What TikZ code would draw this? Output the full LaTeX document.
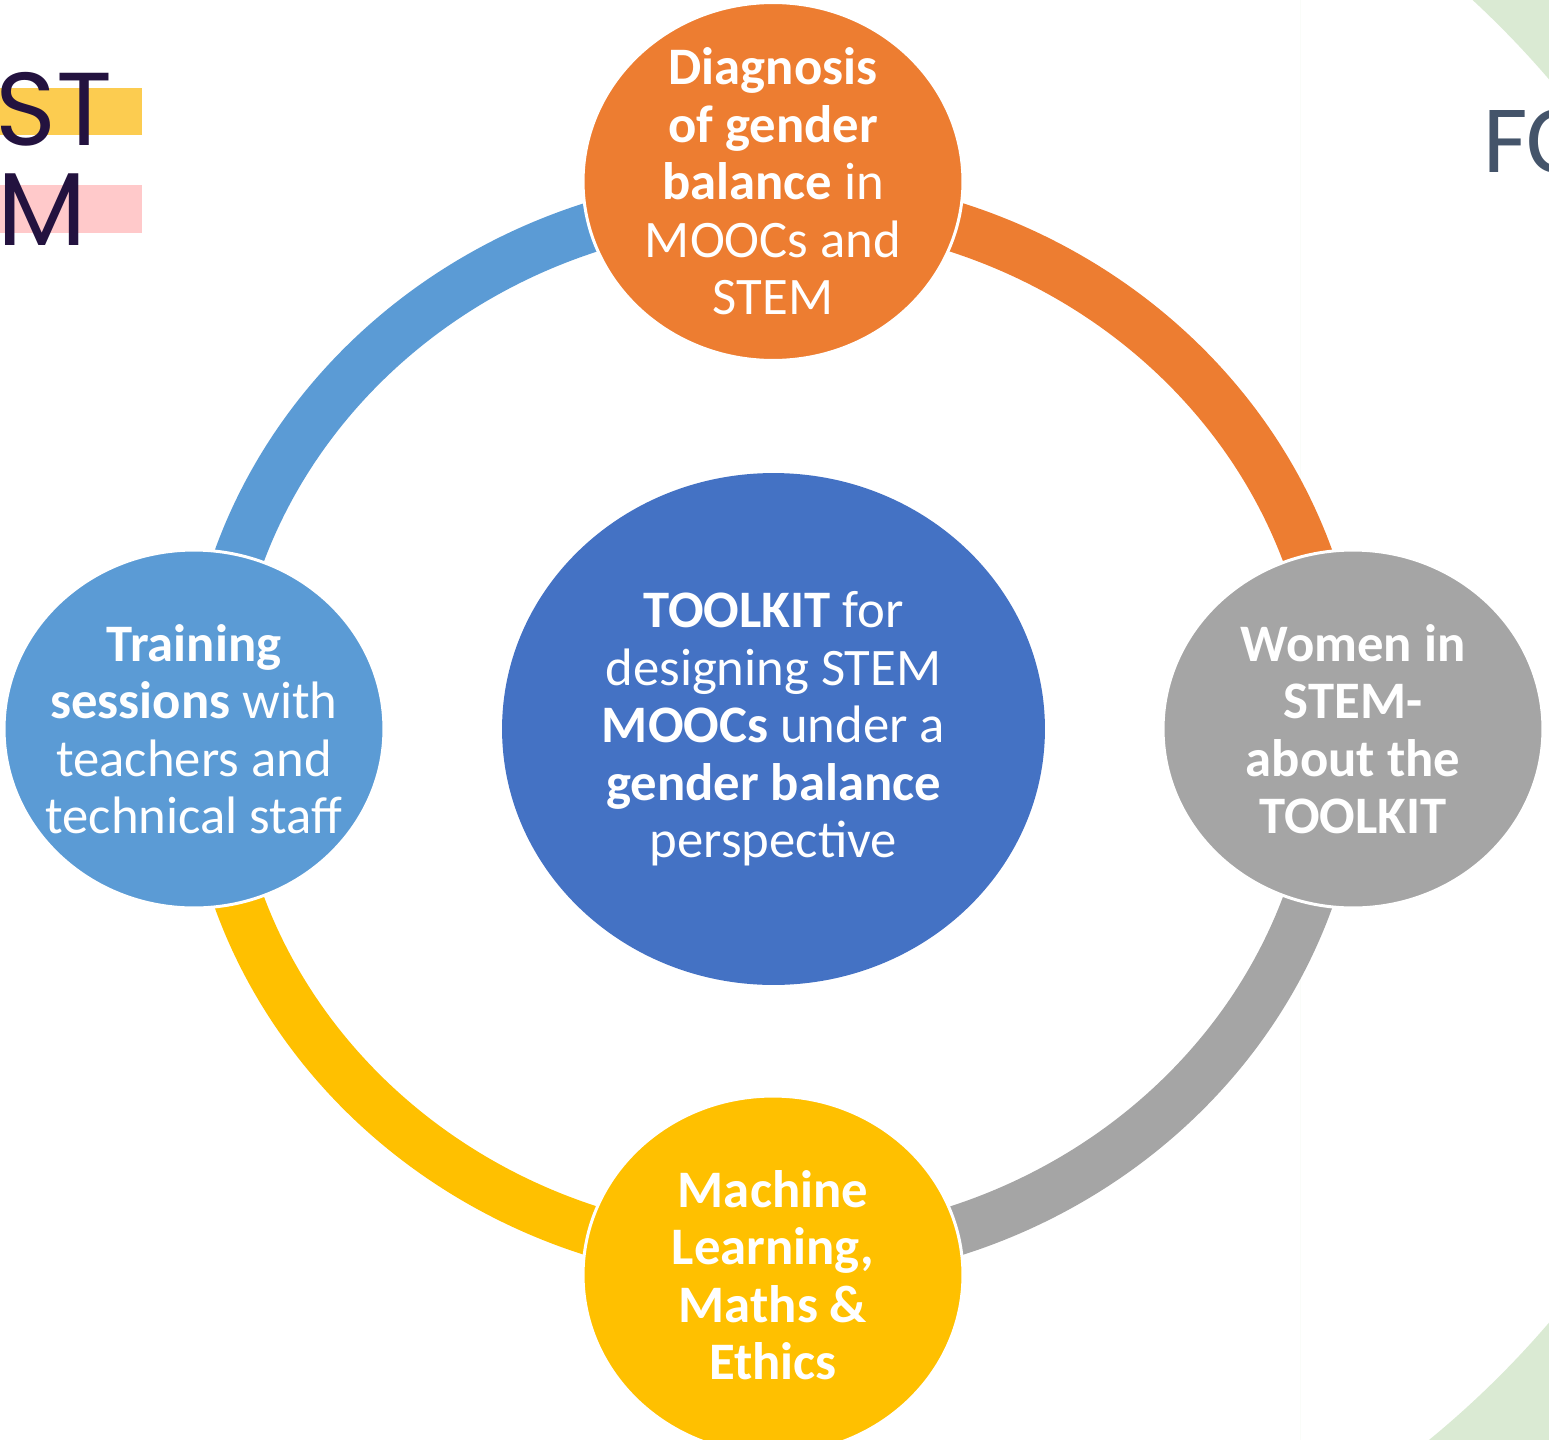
\documentclass[tikz,border=0pt]{standalone}
\usepackage{fontspec}
\setmainfont{Carlito}
\newfontfamily\logofont{Poppins}
\usetikzlibrary{shapes.geometric}

\definecolor{hubblue}{HTML}{4472C4}
\definecolor{ringblue}{HTML}{5B9BD5}
\definecolor{ringorange}{HTML}{ED7D31}
\definecolor{ringgray}{HTML}{A5A5A5}
\definecolor{ringgold}{HTML}{FFC000}
\definecolor{leafgreen}{HTML}{DAEAD3}
\definecolor{baryellow}{HTML}{FCCC50}
\definecolor{barpink}{HTML}{FFC9CA}
\definecolor{logoink}{HTML}{23123F}
\definecolor{slate}{HTML}{44546A}

\tikzset{
	bubble/.style={ellipse, draw=white, line width=0.06cm, inner sep=0pt,
		minimum width=7.6cm, minimum height=7.16cm},
	bubbletext/.style={text=white, align=center, inner sep=0pt,
		font=\fontsize{30}{32.7}\selectfont},
	ringseg/.style={line width=1cm},
}

\begin{document}
\begin{tikzpicture}[x=0.02cm,y=-0.02cm]
			%%%%% START %%%%%
			\def\cx{773.5}
			\def\cy{729}
			\def\rrx{565}
			\def\rry{530}
			\def\logosize{\fontsize{59}{60}\selectfont}
			
			\useasboundingbox (0,0) rectangle (1549,1440);
			\clip (0,0) rectangle (1549,1440);
			
			% slide backdrop, cut by the page edge
			\begin{scope}
				\clip (1300,0) rectangle (1549,1440);
				\fill[leafgreen, even odd rule] (824,701) circle[radius=955] (1300,-10) rectangle (1560,1450);
			\end{scope}
			\fill[baryellow] (0,88) rectangle (142,135);
			\fill[barpink] (0,185) rectangle (142,233);
			\node[anchor=base east, inner sep=0pt, text=logoink, font=\logofont\logosize] (logost) at (113,145) {ST};
			\node[anchor=base east, inner sep=0pt, text=logoink, font=\logofont\logosize] (logom) at (87,245) {M};
			\node[anchor=base west, inner sep=0pt, text=slate, font=\fontsize{55}{56}\selectfont] (fctext) at (1483,172) {FC};
			
			% centre
			\node[ellipse, fill=hubblue, inner sep=0pt, minimum width=10.86cm, minimum height=10.24cm] (toolkit) at (\cx,\cy) {};
			\node[bubbletext] (toolkittext) at (toolkit)
				{\textbf{TOOLKIT} for\\designing STEM\\\textbf{MOOCs} under a\\\textbf{gender balance}\\perspective};
			
			% ring
			\draw[ringseg, ringblue] (toolkit.center) ++(-\rrx,0) arc[start angle=180, end angle=270, x radius=\rrx, y radius=\rry];
			\draw[ringseg, ringorange] (toolkit.center) ++(0,-\rry) arc[start angle=270, end angle=360, x radius=\rrx, y radius=\rry];
			\draw[ringseg, ringgray] (toolkit.center) ++(\rrx,0) arc[start angle=0, end angle=90, x radius=\rrx, y radius=\rry];
			\draw[ringseg, ringgold] (toolkit.center) ++(0,\rry) arc[start angle=90, end angle=180, x radius=\rrx, y radius=\rry];
			
			% satellites
			\node[bubble, fill=ringorange] (diag) at (773,181.5) {};
			\node[bubble, fill=ringgray] (women) at (1353,729) {};
			\node[bubble, fill=ringgold] (ml) at (773,1275) {};
			\node[bubble, fill=ringblue] (train) at (194,729) {};
			
			\node[bubbletext] (diagtext) at (diag)
				{\textbf{Diagnosis}\\\textbf{of gender}\\\textbf{balance} in\\MOOCs and\\STEM};
			\node[bubbletext] (womentext) at (women)
				{\textbf{Women in}\\\textbf{STEM-}\\\textbf{about the}\\\textbf{TOOLKIT}};
			\node[bubbletext] (mltext) at (ml)
				{\textbf{Machine}\\\textbf{Learning,}\\\textbf{Maths \&}\\\textbf{Ethics}};
			\node[bubbletext] (traintext) at (train)
				{\textbf{Training}\\\textbf{sessions} with\\teachers and\\technical staff};
			%%%%% END %%%%%
\end{tikzpicture}
\end{document}
